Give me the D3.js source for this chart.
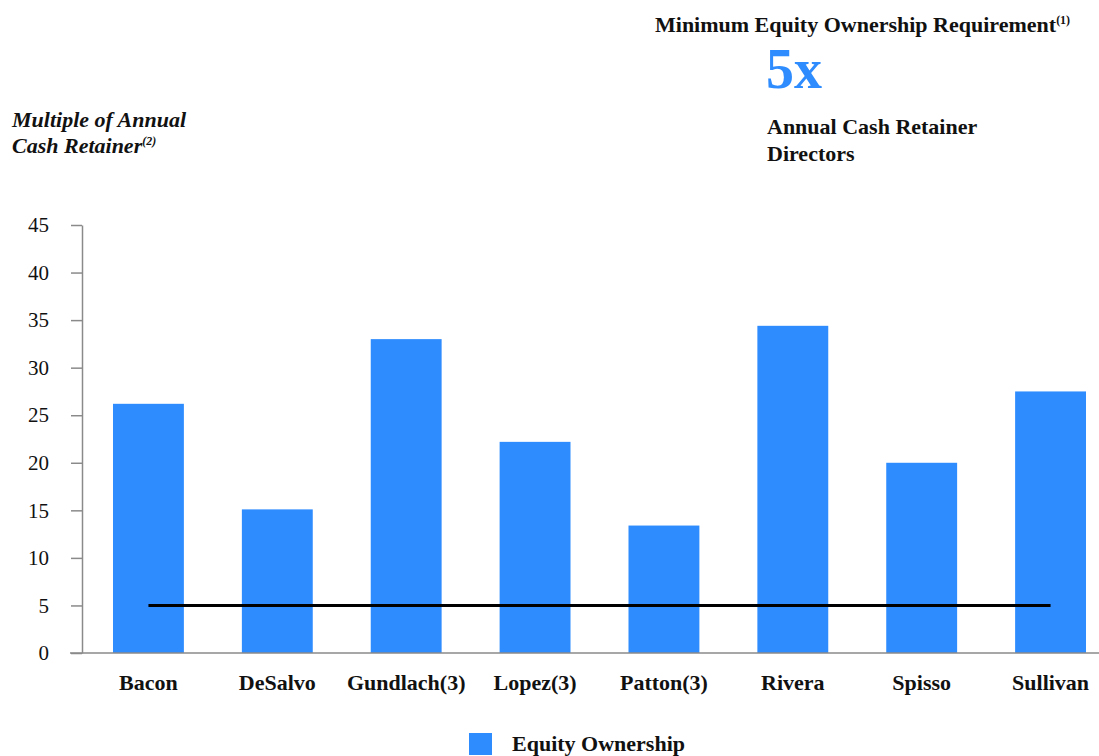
<!DOCTYPE html>
<html>
<head>
<meta charset="utf-8">
<script src="https://cdn.jsdelivr.net/npm/d3@7"></script>
<style>
  html, body { margin: 0; padding: 0; background: #fff; }
  svg { display: block; }
  text { font-family: "Liberation Serif", "Times New Roman", serif; fill: #111; }
</style>
</head>
<body>
<svg id="chart" width="1099" height="756"></svg>
<script>
// Director equity ownership as a multiple of the annual cash retainer
const directors = ["Bacon", "DeSalvo", "Gundlach(3)", "Lopez(3)", "Patton(3)", "Rivera", "Spisso", "Sullivan"];
const ownershipMultiple = [26.2, 15.1, 33.0, 22.2, 13.4, 34.4, 20.0, 27.5];
const requirementMultiple = 5;
const yTicks = [0, 5, 10, 15, 20, 25, 30, 35, 40, 45];

const barColor = "#2e8cff";
const axisColor = "#8a8a8a";

const svg = d3.select("#chart");

const x = d3.scaleBand()
  .domain(directors)
  .range([84, 1115])
  .paddingInner(0.45)
  .paddingOuter(0.225);

const y = d3.scaleLinear()
  .domain([0, 45])
  .range([653, 225]);

// Bars
svg.append("g")
  .selectAll("rect")
  .data(directors)
  .join("rect")
  .attr("x", d => x(d))
  .attr("y", (d, i) => y(ownershipMultiple[i]))
  .attr("width", x.bandwidth())
  .attr("height", (d, i) => y(0) - y(ownershipMultiple[i]))
  .attr("fill", barColor);

// Y axis
const yAxis = svg.append("g")
  .attr("transform", `translate(${82},0)`)
  .call(d3.axisLeft(y).tickValues(yTicks).tickSize(11).tickSizeOuter(0).tickPadding(22));
yAxis.select(".domain").attr("stroke", axisColor).attr("stroke-width", 1.5);
yAxis.selectAll(".tick line").attr("stroke", axisColor).attr("stroke-width", 1.5);
yAxis.selectAll(".tick text")
  .attr("font-family", "Liberation Serif, serif")
  .attr("font-size", 21)
  .attr("fill", "#222");

// X axis baseline and category labels
const xAxis = svg.append("g")
  .attr("transform", `translate(0,${y(0)})`)
  .call(d3.axisBottom(x).tickSize(0).tickPadding(21));
xAxis.select(".domain").remove();
xAxis.append("line")
  .attr("x1", 70).attr("x2", 1099)
  .attr("stroke", axisColor).attr("stroke-width", 1.5);
xAxis.selectAll(".tick text")
  .attr("font-family", "Liberation Serif, serif")
  .attr("font-size", 22)
  .attr("font-weight", "bold")
  .attr("fill", "#111");

// Minimum requirement line across the band centers
const firstCenter = x(directors[0]) + x.bandwidth() / 2;
const lastCenter = x(directors[directors.length - 1]) + x.bandwidth() / 2;
svg.append("line")
  .attr("x1", firstCenter).attr("x2", lastCenter)
  .attr("y1", y(requirementMultiple)).attr("y2", y(requirementMultiple))
  .attr("stroke", "#000").attr("stroke-width", 3);

// Y-axis title
const yTitle = svg.append("text")
  .attr("x", 12).attr("y", 127)
  .attr("font-size", 22).attr("font-weight", "bold").attr("font-style", "italic");
yTitle.append("tspan").text("Multiple of Annual");
const yTitle2 = svg.append("text")
  .attr("x", 12).attr("y", 153)
  .attr("font-size", 22).attr("font-weight", "bold").attr("font-style", "italic");
yTitle2.append("tspan").text("Cash Retainer");
yTitle2.append("tspan").text("(2)").attr("font-size", 12).attr("dy", -8);

// Requirement callout
const req = svg.append("text")
  .attr("x", 655).attr("y", 32)
  .attr("font-size", 22).attr("font-weight", "bold");
req.append("tspan").text("Minimum Equity Ownership Requirement");
req.append("tspan").text("(1)").attr("font-size", 12).attr("dy", -8);

svg.append("text")
  .attr("x", 766).attr("y", 88)
  .attr("font-size", 56).attr("font-weight", "bold")
  .style("fill", barColor)
  .text(`${requirementMultiple}x`);

svg.append("text")
  .attr("x", 767).attr("y", 134)
  .attr("font-size", 22).attr("font-weight", "bold")
  .text("Annual Cash Retainer");
svg.append("text")
  .attr("x", 767).attr("y", 161)
  .attr("font-size", 22).attr("font-weight", "bold")
  .text("Directors");

// Legend
svg.append("rect")
  .attr("x", 469).attr("y", 733)
  .attr("width", 23).attr("height", 22)
  .attr("fill", barColor);
svg.append("text")
  .attr("x", 512).attr("y", 751)
  .attr("font-size", 22).attr("font-weight", "bold")
  .text("Equity Ownership");
</script>
</body>
</html>
